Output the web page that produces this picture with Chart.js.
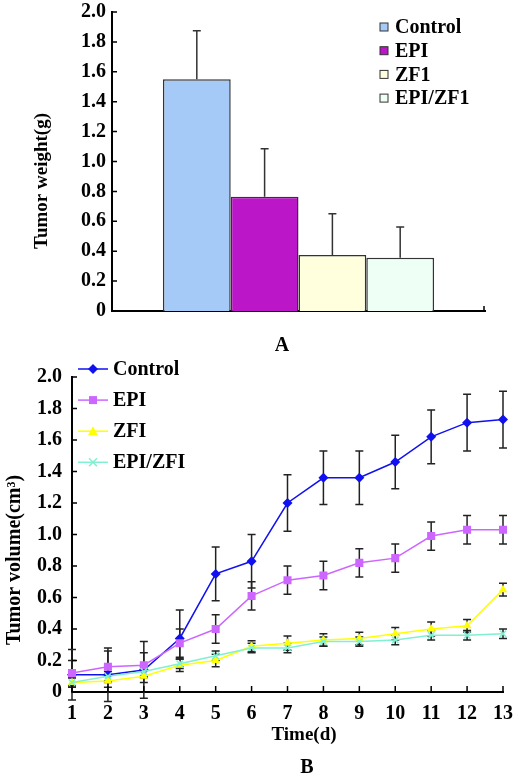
<!DOCTYPE html>
<html>
<head>
<meta charset="utf-8">
<title>Tumor weight and volume</title>
<script src="https://cdn.jsdelivr.net/npm/chart.js@4.4.0/dist/chart.umd.min.js"></script>
<style>
  html, body { margin: 0; padding: 0; background: #fff; }
  #wrapA { position: absolute; left: 0; top: 0; width: 523px; height: 360px; }
  #wrapB { position: absolute; left: 0; top: 350px; width: 523px; height: 430px; }
</style>
</head>
<body>
<div id="wrapA"><canvas id="weightChart"></canvas></div>
<div id="wrapB"><canvas id="volumeChart"></canvas></div>
<script>
// ---- Panel A: tumor weight (bars + upper error bars)
var groupLabels = ['Control', 'EPI', 'ZF1', 'EPI/ZF1'];
var weightMeans = [1.55, 0.765, 0.375, 0.357];
var weightErrors = [0.325, 0.32, 0.275, 0.205];
var barColors = ['#A6CAF8', '#BB16C8', '#FFFFDD', '#EEFFF6'];

// ---- Panel B: tumor volume over time
var days = ['1', '2', '3', '4', '5', '6', '7', '8', '9', '10', '11', '12', '13'];
var seriesNames = ['Control', 'EPI', 'ZFI', 'EPI/ZFI'];
var controlVol = [0.11, 0.11, 0.14, 0.34, 0.75, 0.83, 1.20, 1.36, 1.36, 1.46, 1.62, 1.71, 1.73];
var controlErr = [0.16, 0.17, 0.18, 0.18, 0.17, 0.17, 0.18, 0.17, 0.17, 0.17, 0.17, 0.18, 0.18];
var epiVol = [0.12, 0.16, 0.17, 0.31, 0.40, 0.61, 0.71, 0.74, 0.82, 0.85, 0.99, 1.03, 1.03];
var epiErr = [0.08, 0.10, 0.08, 0.09, 0.09, 0.09, 0.09, 0.09, 0.09, 0.09, 0.09, 0.09, 0.09];
var zfiVol = [0.06, 0.07, 0.10, 0.17, 0.20, 0.29, 0.31, 0.33, 0.34, 0.37, 0.40, 0.42, 0.65];
var zfiErr = [0.03, 0.04, 0.04, 0.04, 0.04, 0.035, 0.045, 0.04, 0.04, 0.04, 0.045, 0.04, 0.04];
var comboVol = [0.06, 0.10, 0.13, 0.18, 0.23, 0.28, 0.28, 0.32, 0.32, 0.33, 0.36, 0.36, 0.37];
var comboErr = [0.03, 0.03, 0.03, 0.03, 0.03, 0.03, 0.03, 0.03, 0.03, 0.03, 0.03, 0.03, 0.03];
var lineColors = ['#1010F0', '#CC66FF', '#FFFF00', '#80F0D0'];
var markerStyles = ['rectRot', 'rect', 'triangle', 'crossRot'];

var FONT = '"Liberation Serif", "Times New Roman", serif';

function tickFormat(v) {
    return v === 0 ? '0' : v.toFixed(1);
}

// small helper to draw legend markers by hand
function drawMarker(ctx, style, x, y, color) {
    ctx.save();
    ctx.fillStyle = color;
    ctx.strokeStyle = color;
    ctx.lineWidth = 1.5;
    ctx.beginPath();
    if (style === 'rectRot') {
        ctx.moveTo(x, y - 5); ctx.lineTo(x + 5, y); ctx.lineTo(x, y + 5); ctx.lineTo(x - 5, y);
        ctx.closePath(); ctx.fill();
    } else if (style === 'rect') {
        ctx.rect(x - 4, y - 4, 8, 8); ctx.fill();
    } else if (style === 'triangle') {
        ctx.moveTo(x, y - 5); ctx.lineTo(x + 5, y + 4); ctx.lineTo(x - 5, y + 4);
        ctx.closePath(); ctx.fill();
    } else {
        ctx.moveTo(x - 4, y - 4); ctx.lineTo(x + 4, y + 4);
        ctx.moveTo(x + 4, y - 4); ctx.lineTo(x - 4, y + 4);
        ctx.stroke();
    }
    ctx.restore();
}

// Panel A extras: error bars, inside ticks, legend, titles
var weightExtras = {
    id: 'weightExtras',
    afterDatasetsDraw: function(chart) {
        var ctx = chart.ctx;
        var yScale = chart.scales.y;
        ctx.save();
        ctx.strokeStyle = '#333';
        ctx.lineWidth = 1.5;
        chart.data.datasets.forEach(function(ds, i) {
            var bar = chart.getDatasetMeta(i).data[0];
            var yTop = yScale.getPixelForValue(weightMeans[i]);
            var yErr = yScale.getPixelForValue(weightMeans[i] + weightErrors[i]);
            ctx.beginPath();
            ctx.moveTo(bar.x, yTop);
            ctx.lineTo(bar.x, yErr);
            ctx.moveTo(bar.x - 4, yErr);
            ctx.lineTo(bar.x + 4, yErr);
            ctx.stroke();
        });
        ctx.restore();
    },
    afterDraw: function(chart) {
        var ctx = chart.ctx;
        var area = chart.chartArea;
        var yScale = chart.scales.y;
        ctx.save();
        // inside tick marks
        ctx.strokeStyle = '#000';
        ctx.lineWidth = 1.5;
        ctx.beginPath();
        yScale.ticks.forEach(function(t) {
            var py = yScale.getPixelForValue(t.value);
            ctx.moveTo(area.left, py);
            ctx.lineTo(area.left + 5, py);
        });
        ctx.moveTo(area.right - 1, area.bottom);
        ctx.lineTo(area.right - 1, area.bottom - 5);
        ctx.stroke();

        // legend
        ctx.font = 'bold 20px ' + FONT;
        ctx.textBaseline = 'middle';
        ctx.textAlign = 'left';
        chart.data.datasets.forEach(function(ds, i) {
            var ly = 27 + i * 23.7;
            ctx.fillStyle = ds.backgroundColor;
            ctx.fillRect(380, ly - 4, 8, 8);
            ctx.strokeStyle = '#333';
            ctx.lineWidth = 1;
            ctx.strokeRect(380, ly - 4, 8, 8);
            ctx.fillStyle = '#000';
            ctx.fillText(ds.label, 395, ly + 1);
        });

        // axis title
        ctx.save();
        ctx.translate(42, 181);
        ctx.rotate(-Math.PI / 2);
        ctx.textAlign = 'center';
        ctx.font = 'bold 19px ' + FONT;
        ctx.fillText('Tumor weight(g)', 0, 0);
        ctx.restore();

        // panel letter
        ctx.textAlign = 'center';
        ctx.font = 'bold 20px ' + FONT;
        ctx.fillText('A', 282, 346);
        ctx.restore();
    }
};

new Chart(document.getElementById('weightChart'), {
    type: 'bar',
    data: {
        labels: [''],
        datasets: groupLabels.map(function(name, i) {
            return {
                label: name,
                data: [weightMeans[i]],
                backgroundColor: barColors[i],
                borderColor: '#333',
                borderWidth: 1.5,
                barPercentage: 1,
                categoryPercentage: 0.727
            };
        })
    },
    options: {
        responsive: true,
        maintainAspectRatio: false,
        animation: false,
        layout: { padding: { left: 27, top: 12, right: 38, bottom: 0 } },
        plugins: { legend: { display: false }, tooltip: { enabled: false } },
        scales: {
            x: {
                grid: { display: false, drawTicks: false },
                border: { display: true, color: '#000', width: 2 },
                ticks: { display: false },
                afterFit: function(s) { s.height = 49; }
            },
            y: {
                min: 0,
                max: 2,
                grid: { display: false, drawTicks: false },
                border: { display: true, color: '#000', width: 2 },
                ticks: {
                    stepSize: 0.2,
                    padding: 6,
                    color: '#000',
                    font: { family: FONT, size: 20, weight: 'bold' },
                    callback: tickFormat
                },
                afterFit: function(s) {
                    s.width = 85;
                    s.paddingTop = 0;
                    s.paddingBottom = 0;
                }
            }
        }
    },
    plugins: [weightExtras]
});

// Panel B extras
var volumeValues = [controlVol, epiVol, zfiVol, comboVol];
var volumeErrors = [controlErr, epiErr, zfiErr, comboErr];

var volumeExtras = {
    id: 'volumeExtras',
    beforeDatasetsDraw: function(chart) {
        var ctx = chart.ctx;
        var xScale = chart.scales.x;
        var yScale = chart.scales.y;
        ctx.save();
        ctx.strokeStyle = '#222';
        ctx.lineWidth = 1.5;
        volumeValues.forEach(function(vals, s) {
            var errs = volumeErrors[s];
            vals.forEach(function(v, i) {
                var px = xScale.getPixelForValue(i);
                var top = yScale.getPixelForValue(v + errs[i]);
                var bot = yScale.getPixelForValue(v - errs[i]);
                ctx.beginPath();
                ctx.moveTo(px, top); ctx.lineTo(px, bot);
                ctx.moveTo(px - 4, top); ctx.lineTo(px + 4, top);
                ctx.moveTo(px - 4, bot); ctx.lineTo(px + 4, bot);
                ctx.stroke();
            });
        });
        ctx.restore();
    },
    afterDraw: function(chart) {
        var ctx = chart.ctx;
        var area = chart.chartArea;
        var xScale = chart.scales.x;
        var yScale = chart.scales.y;
        ctx.save();
        ctx.strokeStyle = '#000';
        ctx.lineWidth = 1.5;
        ctx.beginPath();
        yScale.ticks.forEach(function(t) {
            var py = yScale.getPixelForValue(t.value);
            ctx.moveTo(area.left, py);
            ctx.lineTo(area.left + 5, py);
        });
        days.forEach(function(d, i) {
            var px = xScale.getPixelForValue(i);
            ctx.moveTo(px, area.bottom);
            ctx.lineTo(px, area.bottom - 6);
        });
        ctx.stroke();

        // legend
        ctx.font = 'bold 20px ' + FONT;
        ctx.textBaseline = 'middle';
        ctx.textAlign = 'left';
        chart.data.datasets.forEach(function(ds, i) {
            var ly = 19 + i * 31.1;
            ctx.strokeStyle = ds.borderColor;
            ctx.lineWidth = 1.5;
            ctx.beginPath();
            ctx.moveTo(78, ly);
            ctx.lineTo(108, ly);
            ctx.stroke();
            drawMarker(ctx, ds.pointStyle, 93, ly, ds.borderColor);
            ctx.fillStyle = '#000';
            ctx.fillText(ds.label, 113, ly + 1);
        });

        // axis titles
        ctx.save();
        ctx.translate(15, 210);
        ctx.rotate(-Math.PI / 2);
        ctx.textAlign = 'center';
        ctx.font = 'bold 20px ' + FONT;
        ctx.fillText('Tumor volume(cm\u00B3)', 0, 0);
        ctx.restore();

        ctx.textAlign = 'center';
        ctx.font = 'bold 19px ' + FONT;
        ctx.fillText('Time(d)', 304, 385);
        ctx.font = 'bold 20px ' + FONT;
        ctx.fillText('B', 307, 418);
        ctx.restore();
    }
};

new Chart(document.getElementById('volumeChart'), {
    type: 'line',
    data: {
        labels: days,
        datasets: seriesNames.map(function(name, i) {
            return {
                label: name,
                data: volumeValues[i],
                borderColor: lineColors[i],
                backgroundColor: lineColors[i],
                borderWidth: 1.5,
                pointStyle: markerStyles[i],
                pointRadius: i === 1 ? 5.7 : (i === 3 ? 4.5 : 5),
                pointBorderWidth: i === 3 ? 1.5 : 0,
                tension: 0,
                fill: false,
                order: 3 - i
            };
        })
    },
    options: {
        responsive: true,
        maintainAspectRatio: false,
        animation: false,
        layout: { padding: { left: 0, top: 27, right: 14, bottom: 0 } },
        plugins: { legend: { display: false }, tooltip: { enabled: false } },
        scales: {
            x: {
                offset: false,
                grid: { display: false, drawTicks: false },
                border: { display: true, color: '#000', width: 2 },
                ticks: {
                    padding: 10,
                    color: '#000',
                    maxRotation: 0,
                    autoSkip: false,
                    font: { family: FONT, size: 20, weight: 'bold' }
                },
                afterFit: function(s) { s.height = 88; }
            },
            y: {
                min: 0,
                max: 2,
                grid: { display: false, drawTicks: false },
                border: { display: true, color: '#000', width: 2 },
                ticks: {
                    stepSize: 0.2,
                    padding: 10,
                    color: '#000',
                    font: { family: FONT, size: 20, weight: 'bold' },
                    callback: tickFormat
                },
                afterFit: function(s) { s.width = 72; }
            }
        }
    },
    plugins: [volumeExtras]
});
</script>
</body>
</html>
